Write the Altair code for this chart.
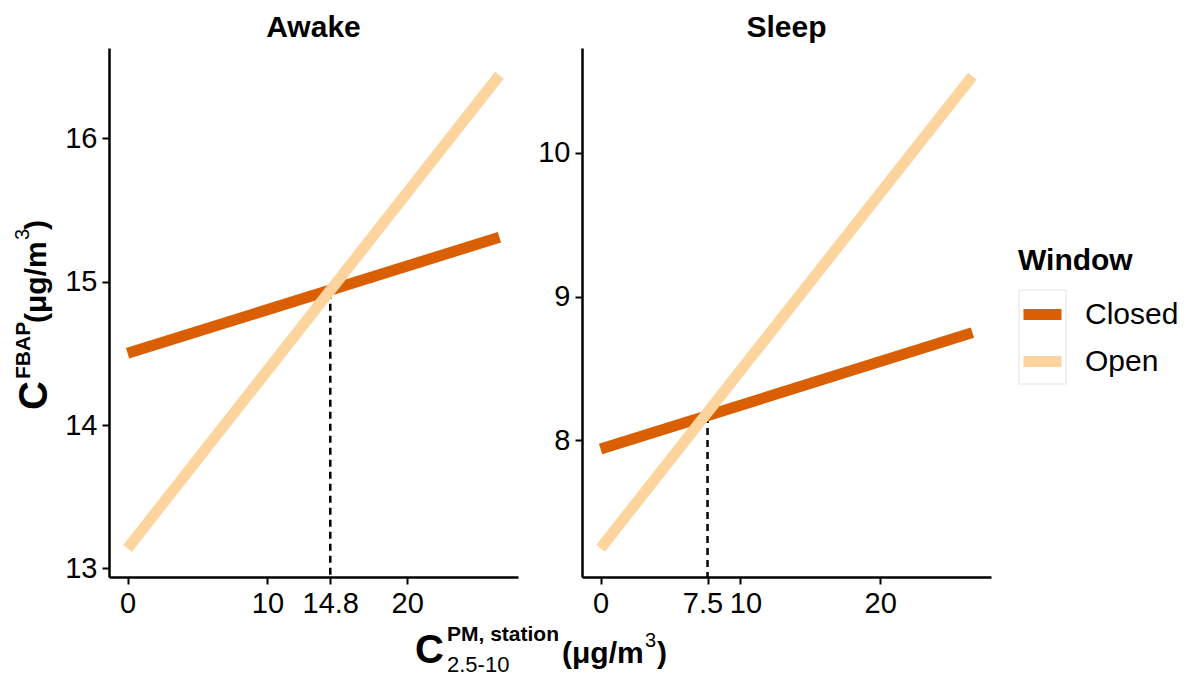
import altair as alt
import pandas as pd

# ---------------- data ----------------
windows = ["Closed", "Open"]
colors = ["#D95F02", "#FDD49E"]
x_ends = [0, 26.6]

awake_closed = [14.50, 15.31]
awake_open = [13.14, 16.44]
sleep_closed = [7.94, 8.75]
sleep_open = [7.25, 10.535]

cross_x = {"Awake": 14.5, "Sleep": 7.65}
cross_y = {"Awake": 14.93, "Sleep": 8.17}
cross_label = {"Awake": "14.8", "Sleep": "7.5"}

awake_yticks = [13, 14, 15, 16]
sleep_yticks = [8, 9, 10]
base_xticks = [0, 10, 20]

x_domain = [-1.33, 27.93]
awake_ydomain = [12.94, 16.63]
sleep_ydomain = [7.05, 10.73]

rows = []
for state, cl, op in [("Awake", awake_closed, awake_open), ("Sleep", sleep_closed, sleep_open)]:
    for w, vals in zip(windows, [cl, op]):
        for xv, yv in zip(x_ends, vals):
            rows.append({"state": state, "window": w, "x": xv, "y": yv})
df = pd.DataFrame(rows)

W, H = 409, 529
FONT = "Liberation Sans"


def text_piece(txt, x, y, size, bold=True, angle=0):
    return alt.Chart(pd.DataFrame({"t": [txt]})).mark_text(
        font=FONT, fontSize=size, fontWeight="bold" if bold else "normal",
        align="left", baseline="alphabetic", angle=angle, color="black", clip=False
    ).encode(x=alt.value(x), y=alt.value(y), text="t:N")


def label_expr(values, labels):
    expr = "datum.label"
    for v, l in zip(values, labels):
        expr = f"datum.value == {v} ? '{l}' : ({expr})"
    return expr


def panel(state, ydomain, yticks, extra):
    xt = sorted(base_xticks + [cross_x[state]])
    xl = [cross_label[state] if v == cross_x[state] else str(v) for v in xt]
    d = df[df.state == state]
    xaxis_kw = dict(values=xt, labelExpr=label_expr(xt, xl), title=None, labelOverlap=False)
    if state == "Sleep":
        xaxis_kw["labelOffset"] = {
            "condition": [
                {"test": f"datum.value == {cross_x[state]}", "value": -5},
                {"test": "datum.value == 10", "value": 5},
            ],
            "value": 0,
        }
    lines = alt.Chart(d).mark_line(strokeWidth=11, strokeCap="butt", clip=False).encode(
        x=alt.X("x:Q", scale=alt.Scale(domain=x_domain, nice=False, zero=False),
                axis=alt.Axis(**xaxis_kw)),
        y=alt.Y("y:Q", scale=alt.Scale(domain=ydomain, nice=False, zero=False),
                axis=alt.Axis(values=yticks, format="d", title=None, labelOverlap=False)),
        color=alt.Color("window:N", scale=alt.Scale(domain=windows, range=colors),
                        legend=alt.Legend(title="Window", orient="none",
                                          legendX=909, legendY=198)),
        detail="window:N",
    )
    cd = pd.DataFrame({"x": [cross_x[state]], "y": [cross_y[state]]})
    dash = alt.Chart(cd).mark_rule(color="black", strokeWidth=2.5, strokeDash=[7, 5]).encode(
        x="x:Q", y="y:Q", y2=alt.value(H)
    )
    title = alt.Chart(pd.DataFrame({"t": [state]})).mark_text(
        font=FONT, fontSize=30, fontWeight="bold", align="center", baseline="alphabetic",
        color="black", clip=False
    ).encode(x=alt.value(W / 2), y=alt.value(-11), text="t:N")
    return alt.layer(dash, lines, title, *extra).properties(width=W, height=H)


OX, OY = 109, 48  # page position of the Awake plot origin
SX = 582          # page x of the Sleep plot origin

anchor = alt.Chart(pd.DataFrame({"a": [0]})).mark_rule(strokeOpacity=0, strokeWidth=0).encode(
    x=alt.value(-OX), x2=alt.value(-OX), y=alt.value(-OY), y2=alt.value(-OY)
)

# legend key background box
keybox = alt.Chart(pd.DataFrame({"a": [0]})).mark_rect(
    fill="white", stroke="#e6e6e6", strokeWidth=1.2, clip=False
).encode(
    x=alt.value(1019 - SX), x2=alt.value(1066 - SX), y=alt.value(290 - OY), y2=alt.value(384 - OY)
)

# y-axis title pieces (rotated)
ytitle = [
    text_piece("C", 47 - OX, 410 - OY, 40, True, 270),
    text_piece("FBAP", 30 - OX, 379 - OY, 21, True, 270),
    text_piece("(μg/m", 46 - OX, 323 - OY, 30, True, 270),
    text_piece("3", 29 - OX, 240 - OY, 20, False, 270),
    text_piece(")", 46 - OX, 230 - OY, 30, True, 270),
]
# x-axis title pieces
xtitle = [
    text_piece("C", 415 - OX, 663 - OY, 40, True),
    text_piece("PM, station", 447 - OX, 641 - OY, 21, True),
    text_piece("2.5-10", 447 - OX, 672 - OY, 22, False),
    text_piece("(μg/m", 562 - OX, 663 - OY, 30, True),
    text_piece("3", 645 - OX, 647 - OY, 20, False),
    text_piece(")", 657 - OX, 663 - OY, 30, True),
]

awake = panel("Awake", awake_ydomain, awake_yticks, [anchor] + ytitle + xtitle)
sleep = panel("Sleep", sleep_ydomain, sleep_yticks, [keybox])

chart = alt.hconcat(awake, sleep, spacing=64, bounds="flush").configure_view(
    stroke=None
).configure_axis(
    domainColor="black", domainWidth=2.5, tickColor="black", tickWidth=2, tickSize=7,
    labelFont=FONT, labelFontSize=29, labelColor="black", labelPadding=5, grid=False
).configure_legend(
    titleFont=FONT, titleFontSize=30, titleFontWeight="bold", titleColor="black",
    labelFont=FONT, labelFontSize=30, labelColor="black",
    symbolType="stroke", symbolStrokeWidth=11, symbolSize=1444,
    rowPadding=-2, labelOffset=18, titlePadding=14
).properties(padding=0, background="white")

chart.save("out.html", embed_options={"renderer": "svg", "actions": False})
